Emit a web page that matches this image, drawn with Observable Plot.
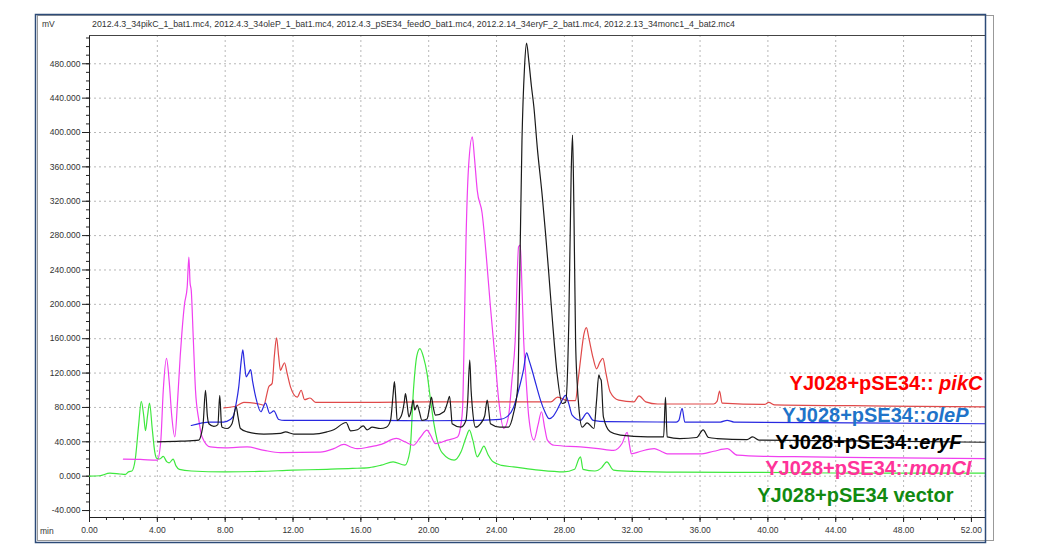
<!DOCTYPE html>
<html><head><meta charset="utf-8">
<script src="https://cdn.jsdelivr.net/npm/d3@7"></script>
<script src="https://cdn.jsdelivr.net/npm/@observablehq/plot@0.6"></script>
<style>body{margin:0;background:#fff} #chart{width:1048px;height:555px}</style>
</head><body><div id="chart"></div>
<script>
// ---- data: [retention time (min), signal (mV)] ----
const vector = [[0,0],[0.6,0.5],[1.2,3.5],[1.8,2.5],[2.1,2],[2.3,5],[2.5,6],[2.7,20],[2.9,60],[3.05,87],[3.2,70],[3.3,53],[3.42,70],[3.54,85],[3.7,55],[3.85,28],[3.95,21],[4.15,20],[4.35,23],[4.55,17],[4.7,15.5],[4.93,19.8],[5.1,12],[5.3,8],[6.0,6],[8,5],[10,5.5],[12,7],[14,8],[15.5,9],[16.5,10],[17.2,12.8],[17.9,16.7],[18.6,12.8],[18.9,30],[19.1,100],[19.3,140],[19.48,148.5],[19.7,138],[19.9,120],[20.1,90],[20.3,62],[20.5,42],[20.8,27],[21.5,18.6],[21.9,28],[22.2,45],[22.4,53.5],[22.6,42],[22.86,22.5],[23.05,28],[23.25,35],[23.5,25],[23.8,16.7],[24.3,12.5],[25,10.8],[26.5,7],[27.95,5],[28.6,8],[28.85,20],[28.95,22.5],[29.1,8],[29.8,6],[30.2,10],[30.5,16.7],[30.9,7],[32,5.5],[34.8,4.6],[38,4.5],[42,4],[46,3.5],[52.83,3.5]];
const monCI = [[2.0,19.8],[3.0,19.5],[4.0,18.6],[4.2,40],[4.35,100],[4.54,137],[4.7,110],[4.85,70],[5.03,45.7],[5.2,90],[5.35,140],[5.46,170],[5.6,200],[5.76,220],[5.86,255],[5.93,225],[6.0,216],[6.12,160],[6.25,100],[6.45,65],[6.64,45.7],[7.13,34],[8,33],[9.3,34],[10.3,30],[11.26,27.5],[13.6,28],[14.4,32],[15.0,37],[15.4,34],[15.8,32],[16.5,34],[17.2,37],[18.1,44],[18.6,40],[19.1,36],[19.5,45],[19.9,53.5],[20.1,48],[20.4,38],[21.1,42],[21.7,45.7],[21.9,60],[22.0,80],[22.1,170],[22.2,275],[22.35,360],[22.57,395],[22.7,370],[22.86,333],[23.15,306],[23.4,255],[23.64,197],[23.9,140],[24.13,88],[24.43,55.5],[24.7,69],[24.9,110],[25.1,158],[25.3,267],[25.4,269],[25.5,220],[25.6,158],[25.75,110],[25.9,69],[26.2,42],[26.45,60],[26.65,75],[26.85,55],[27.0,42],[27.4,36],[28.95,34],[30.0,32],[30.9,30],[31.4,38],[31.7,51],[31.85,35],[31.95,26],[32.5,29],[33.3,32],[33.7,29],[34.06,26],[36,26],[36.8,29],[37.6,32],[38.2,24.4],[40,23],[42.5,22.5],[46,21.5],[52.83,20.5]];
const oleP = [[6.0,59],[7.1,63],[7.9,63],[8.3,66],[8.5,71],[8.65,85],[8.8,104],[8.95,135],[9.04,147],[9.14,130],[9.24,115.6],[9.38,120],[9.5,124],[9.62,110],[9.8,92],[10.1,75],[10.38,85],[10.63,73],[10.87,76],[11.16,66],[11.5,65],[14,65],[17,65],[20,64.5],[23,65],[24.2,66],[24.6,69],[25.0,80],[25.3,100],[25.6,125],[25.77,143.5],[25.9,136],[26.1,123],[26.35,105],[26.6,88],[26.85,75],[27.1,67],[27.35,70],[27.57,77],[27.85,88],[28.07,94],[28.25,85],[28.46,71],[28.95,65],[29.34,73.7],[29.7,65],[30.5,63.5],[34.6,63],[34.75,65],[34.94,79],[35.1,63],[37.2,63],[37.6,65],[38,63],[45,62],[52.83,61]];
const pikC = [[7.92,79.5],[8.7,82],[9.1,86],[10.0,84],[10.28,82.6],[10.45,95],[10.57,104],[10.77,108],[10.9,140],[11.03,161],[11.15,140],[11.26,123],[11.38,128],[11.5,132],[11.65,120],[11.85,104],[12.25,92],[12.48,100],[12.68,89],[13.0,91],[13.33,85.8],[14,85.8],[17,86],[20,86.5],[24,86.5],[27.2,86.5],[27.6,92],[28.2,88],[28.66,88],[28.8,110],[28.95,135],[29.15,165],[29.3,173],[29.45,160],[29.7,137],[29.9,125],[30.1,133],[30.27,137],[30.45,120],[30.7,98],[31.2,88.5],[32.1,86.5],[32.4,93.5],[32.8,86.5],[33.5,84],[36.8,84],[37.0,87],[37.15,99],[37.3,85],[39.8,83.5],[40.05,85.8],[40.4,83],[45,82],[52.83,80.7]];
const eryF = [[4.0,40],[5.37,40.7],[6.45,42],[6.6,49.7],[6.7,61],[6.84,100],[6.95,70],[7.04,61],[7.33,58],[7.57,60],[7.68,94],[7.78,60],[7.82,57],[8.12,55.5],[8.4,61],[8.65,80.7],[8.75,70],[8.9,55.5],[9.3,51.6],[10.28,49],[11.26,49.7],[11.56,51.6],[12.05,49],[13.2,49],[14.0,51.6],[14.4,54],[15.13,62.5],[15.4,52.7],[15.8,54],[16.14,58.5],[16.37,54],[16.67,57],[17.15,55.5],[17.5,57],[17.75,65],[17.9,95],[17.98,110],[18.06,90],[18.14,65],[18.38,70],[18.55,85],[18.63,96],[18.72,85],[18.83,69],[18.95,75],[19.08,88.5],[19.18,77],[19.32,82.6],[19.45,75],[19.6,65],[19.9,66.6],[20.05,80],[20.16,92],[20.27,80],[20.4,71],[20.9,75],[21.1,85],[21.23,93],[21.32,75],[21.38,61],[21.9,57],[22.2,65],[22.3,88],[22.42,135],[22.5,100],[22.57,80.7],[22.76,57],[23.05,61],[23.3,70],[23.45,88.5],[23.55,75],[23.64,61],[24.2,57],[24.7,57],[25.0,73],[25.25,104],[25.37,236],[25.5,391],[25.65,476],[25.77,504],[25.9,484],[26.05,455],[26.2,430],[26.4,383],[26.7,325],[26.9,280],[27.08,236],[27.3,180],[27.57,119.5],[27.87,84.6],[28.07,86],[28.2,130],[28.26,178],[28.4,352],[28.48,397],[28.56,313],[28.66,158],[28.75,110],[28.85,80.7],[29.05,57],[29.34,62],[29.74,55.5],[29.9,88.5],[30.03,118],[30.1,114],[30.17,111.7],[30.3,69],[30.7,51.6],[31.3,47.7],[32.9,45.7],[33.85,45.7],[33.96,91.6],[34.06,45.7],[34.8,43.8],[35.8,45],[36.18,54],[36.5,45],[37.0,43.8],[38.77,42.6],[39.1,45.7],[39.47,42],[45,41],[52.83,39.5]];

const xMajor = d3.range(0, 53, 4);
const xMinor = d3.range(0, 53, 1);
const yMajor = d3.range(-40, 481, 40);
const yMinor = d3.range(-40, 511, 10);

const titleText = "2012.4.3_34pikC_1_bat1.mc4, 2012.4.3_34oleP_1_bat1.mc4, 2012.4.3_pSE34_feedO_bat1.mc4, 2012.2.14_34eryF_2_bat1.mc4, 2012.2.13_34monc1_4_bat2.mc4";
const labelPrefix = ["YJ028+pSE34:: ", "YJ028+pSE34::", "YJ028+pSE34::", "YJ028+pSE34::", "YJ028+pSE34 vector"];
const labelGene   = ["pikC", "oleP", "eryF", "monCI", ""];
const labelX      = [52.65, 51.83, 51.42, 52.0, 50.94];
const labelY      = [107.9, 70.6, 39.2, 9.0, -22.5];
const labelColor  = ["#ff0000", "#1f74c9", "#000000", "#ff3399", "#118a11"];

const series = [
  {name: "vector", pts: vector, color: "#3ee83e"},
  {name: "monCI", pts: monCI, color: "#f040f0"},
  {name: "pikC", pts: pikC, color: "#e04a4a"},
  {name: "oleP", pts: oleP, color: "#2828e0"},
  {name: "eryF", pts: eryF, color: "#1a1a1a"}
];
const labels = labelPrefix.map((p, i) => ({prefix: p, gene: labelGene[i], x: labelX[i], y: labelY[i], color: labelColor[i]}));

const X0 = 0, X1 = 52.83, Y0 = -48.1, Y1 = 512.9;
const font = "'Liberation Sans', Arial, sans-serif";

const plot = Plot.plot({
  width: 1048, height: 555,
  marginLeft: 89, marginRight: 63, marginTop: 35, marginBottom: 38,
  style: {fontFamily: font, fontSize: "8.5px", color: "#333", background: "#fff", overflow: "visible"},
  x: {domain: [X0, X1]},
  y: {domain: [Y0, Y1]},
  color: {type: "identity"},
  marks: [
    Plot.gridX({ticks: xMajor.filter(d => d > 0), stroke: "#b8b8b8", strokeOpacity: 1, strokeDasharray: "2,3"}),
    Plot.gridY({ticks: yMajor, stroke: "#b8b8b8", strokeOpacity: 1, strokeDasharray: "2,3"}),
    Plot.axisX({ticks: xMinor, tickSize: 3, tickFormat: () => "", label: null, stroke: "#222"}),
    Plot.axisX({ticks: xMajor, tickSize: 5, tickPadding: 4, tickFormat: d => d.toFixed(2), label: null, stroke: "#222", fill: "#333"}),
    Plot.axisY({ticks: yMinor, tickSize: 3, tickFormat: () => "", label: null, stroke: "#222"}),
    Plot.axisY({ticks: yMajor, tickSize: 7, tickPadding: 2, tickFormat: d => d.toFixed(3), label: null, stroke: "#222", fill: "#333"}),
    Plot.ruleX([X0], {stroke: "#222"}),
    Plot.ruleY([Y0], {stroke: "#222"}),
    Plot.ruleY([Y1], {stroke: "#444"}),
    ...series.map(s => Plot.line(s.pts, {x: d => d[0], y: d => d[1], stroke: s.color, strokeWidth: 1.2, curve: "monotone-x"})),
    Plot.text(labels, {x: "x", y: "y", text: d => d.prefix + d.gene, fill: "color", textAnchor: "end",
      fontSize: 20, fontWeight: "bold", fontFamily: font})
  ]
});

document.getElementById("chart").appendChild(plot);
const svg = d3.select(plot);

// italic gene names in legend labels
svg.selectAll('g[aria-label="text"] text').each(function(_, i) {
  const d = labels[i];
  if (!d) return;
  const t = d3.select(this);
  t.text(null);
  t.append("tspan").text(d.prefix);
  if (d.gene) t.append("tspan").attr("font-style", "italic").text(d.gene);
});

// window frame and title bar
svg.insert("rect", ":first-child").attr("x", 37.5).attr("y", 15.5).attr("width", 956).attr("height", 525)
  .attr("fill", "none").attr("stroke", "#999").attr("stroke-width", 1);
svg.append("rect").attr("x", 35.5).attr("y", 14.5).attr("width", 950).attr("height", 528)
  .attr("fill", "none").attr("stroke", "#2d4b78").attr("stroke-width", 1.5);
const addText = (x, y, s) => svg.append("text").attr("x", x).attr("y", y).attr("text-anchor", "start")
  .attr("font-size", 8.5).attr("fill", "#333").attr("font-family", font).text(s);
addText(42, 27, "mV");
addText(92, 27, titleText).attr("textLength", 643).attr("lengthAdjust", "spacingAndGlyphs");
addText(40, 534, "min");
</script>
</body></html>
